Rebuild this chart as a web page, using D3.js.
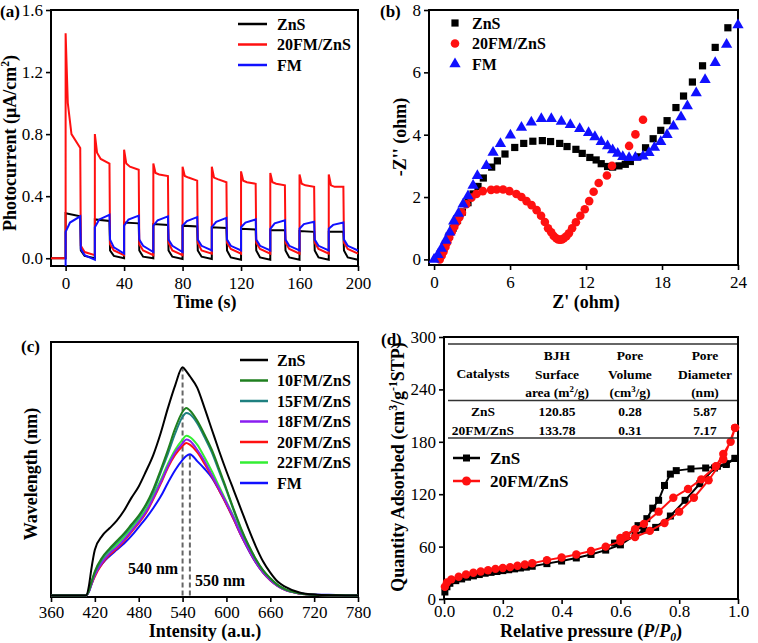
<!DOCTYPE html>
<html>
<head>
<meta charset="utf-8">
<script src="https://cdn.jsdelivr.net/npm/d3@7"></script>
<style>
body { margin: 0; background: #fff; }
svg text { font-family: "Liberation Serif", "Tinos", "Times New Roman", "DejaVu Serif", serif; }
</style>
</head>
<body>
<script>
var FONT = "'Liberation Serif', 'Tinos', 'Times New Roman', 'DejaVu Serif', serif";

// ---------- (a) photocurrent, one entry per light on/off cycle ----------
var cycleStart  = [0, 20, 40, 60, 80, 100, 120, 140, 160, 180];
var redPeak     = [1.45, 0.80, 0.70, 0.61, 0.59, 0.59, 0.56, 0.55, 0.54, 0.54];
var redOn       = [1.00, 0.68, 0.61, 0.55, 0.53, 0.52, 0.50, 0.49, 0.48, 0.47];
var redMid      = [0.80, 0.64, 0.59, 0.54, 0.52, 0.51, 0.49, 0.48, 0.47, 0.46];
var redOnEnd    = [0.71, 0.61, 0.57, 0.53, 0.50, 0.49, 0.48, 0.47, 0.46, 0.46];
var redOffStart = [0.08, 0.09, 0.09, 0.10, 0.10, 0.10, 0.10, 0.10, 0.10, 0.10];
var redOffMid   = [0.04, 0.05, 0.05, 0.05, 0.05, 0.06, 0.06, 0.06, 0.06, 0.06];
var redOffEnd   = [0.02, 0.02, 0.02, 0.02, 0.03, 0.03, 0.03, 0.03, 0.03, 0.03];

var blackOn       = [0.29, 0.25, 0.23, 0.22, 0.21, 0.20, 0.19, 0.18, 0.175, 0.17];
var blackOnEnd    = [0.27, 0.24, 0.225, 0.215, 0.205, 0.195, 0.185, 0.18, 0.17, 0.17];
var blackOffStart = [0.05, 0.05, 0.05, 0.05, 0.05, 0.05, 0.05, 0.05, 0.05, 0.05];
var blackOffMid   = [0.015, 0.015, 0.01, 0.01, 0.01, 0.005, 0.005, 0.005, 0.005, 0.005];
var blackOffEnd   = [0.0, 0.0, 0.0, -0.005, -0.005, -0.01, -0.01, -0.01, -0.01, -0.01];

var blueOn       = [0.17, 0.20, 0.21, 0.21, 0.21, 0.20, 0.20, 0.19, 0.19, 0.19];
var blueMid      = [0.23, 0.25, 0.25, 0.245, 0.24, 0.235, 0.23, 0.225, 0.22, 0.215];
var blueOnEnd    = [0.27, 0.28, 0.275, 0.27, 0.265, 0.26, 0.25, 0.245, 0.235, 0.23];
var blueOffStart = [0.06, 0.12, 0.12, 0.12, 0.12, 0.12, 0.12, 0.12, 0.12, 0.12];
var blueOffMid   = [0.02, 0.07, 0.08, 0.08, 0.08, 0.08, 0.08, 0.08, 0.08, 0.08];
var blueOffEnd   = [-0.01, 0.03, 0.04, 0.04, 0.05, 0.05, 0.05, 0.05, 0.05, 0.05];

// ---------- (b) Nyquist plot ----------
var znsRe = [0.3, 0.6, 0.9, 1.2, 1.5, 1.85, 2.24, 2.68, 3.08, 3.47, 3.89, 4.55, 5.0, 5.6, 6.37, 7.08, 7.8, 8.55, 9.2, 9.92, 10.5, 11.2, 11.7, 12.3, 12.8, 13.2, 13.7, 14.1, 14.6, 15.1, 15.5, 16.1, 16.7, 17.3, 17.9, 18.4, 19.1, 19.7, 20.4, 21.2, 22.2, 23.2];
var znsIm = [0.05, 0.25, 0.5, 0.75, 1.0, 1.25, 1.52, 1.82, 2.1, 2.34, 2.61, 2.96, 3.16, 3.38, 3.59, 3.72, 3.79, 3.81, 3.78, 3.72, 3.62, 3.53, 3.4, 3.27, 3.19, 3.07, 2.98, 2.96, 3.0, 3.05, 3.14, 3.29, 3.58, 3.87, 4.14, 4.45, 4.87, 5.24, 5.69, 6.21, 6.8, 7.43];
var compRe = [0.45, 0.6, 0.75, 0.9, 1.05, 1.2, 1.4, 1.6, 1.8, 2.0, 2.2, 2.55, 2.95, 3.35, 3.85, 4.5, 4.95, 5.45, 5.95, 6.5, 6.9, 7.3, 7.7, 8.1, 8.45, 8.75, 9.0, 9.25, 9.45, 9.65, 9.8, 9.95, 10.1, 10.25, 10.45, 10.65, 10.9, 11.2, 11.55, 11.9, 12.25, 12.6, 13.0, 13.65, 14.05, 15.4, 15.9, 16.5];
var compIm = [0.0, 0.12, 0.25, 0.4, 0.55, 0.7, 0.88, 1.05, 1.2, 1.35, 1.5, 1.77, 1.98, 2.1, 2.19, 2.23, 2.24, 2.24, 2.19, 2.1, 2.0, 1.87, 1.74, 1.58, 1.4, 1.2, 1.0, 0.87, 0.75, 0.68, 0.64, 0.63, 0.64, 0.68, 0.74, 0.84, 1.0, 1.19, 1.4, 1.61, 1.87, 2.17, 2.45, 2.69, 3.0, 3.64, 4.01, 4.48];
var fmRe = [0, 0.3, 0.58, 0.92, 1.24, 1.55, 1.92, 2.29, 2.68, 3.08, 3.42, 4.13, 4.66, 5.24, 6.03, 6.9, 7.68, 8.47, 9.26, 10.05, 10.76, 11.5, 12.2, 12.7, 13.2, 13.7, 14.1, 14.5, 14.9, 15.4, 15.9, 16.5, 16.97, 17.4, 17.9, 18.4, 18.9, 19.5, 20.0, 20.7, 21.4, 22.2, 23.1, 24];
var fmIm = [0, 0.15, 0.35, 0.61, 0.87, 1.22, 1.47, 1.77, 2.03, 2.37, 2.68, 3.0, 3.43, 3.71, 3.98, 4.23, 4.4, 4.51, 4.51, 4.42, 4.32, 4.19, 4.06, 3.93, 3.77, 3.64, 3.51, 3.4, 3.29, 3.26, 3.27, 3.31, 3.42, 3.59, 3.77, 4.0, 4.27, 4.57, 4.92, 5.34, 5.76, 6.31, 6.89, 7.52];

// ---------- (c) PL spectra ----------
var wl = [360, 400, 408, 412, 415, 420, 430, 440, 450, 460, 470, 480, 490, 500, 510, 520, 530, 540, 545, 550, 560, 570, 580, 590, 600, 610, 620, 630, 640, 650, 660, 670, 680, 700, 720, 750, 780];
var plNames = ["ZnS", "10FM/ZnS", "15FM/ZnS", "18FM/ZnS", "20FM/ZnS", "22FM/ZnS", "FM"];
var plColors = ["#000000", "#1f7f1f", "#1f8080", "#8a1ef0", "#ff1010", "#33ee33", "#1010ff"];
var plZnS  = [0, 0, 0, 4, 10, 18, 23.5, 26.5, 29.5, 33.5, 38.5, 43, 49, 55.5, 64, 74, 83, 90, 88.5, 86.5, 82, 74, 65.5, 57, 49, 41.5, 34, 26.5, 19.5, 13.5, 9, 5.5, 3.5, 1.2, 0.4, 0.1, 0];
var pl10FM = [0, 0, 0, 2, 5, 9.5, 15, 18.5, 21.5, 24.5, 28, 31.5, 36, 42, 49.5, 57.5, 66, 72.5, 74, 73, 69, 63.5, 57.5, 50, 42, 34, 26.5, 20, 14.5, 10, 6.8, 4.2, 2.5, 0.9, 0.3, 0.1, 0];
var pl15FM = [0, 0, 0, 2, 4.8, 9, 14.5, 18, 21, 24, 27.5, 31, 35.5, 41, 48.5, 56, 64, 70.5, 72, 71.5, 68, 62.5, 56.5, 49, 41.5, 33.5, 26, 19.8, 14.3, 9.9, 6.7, 4.1, 2.4, 0.9, 0.3, 0.1, 0];
var pl18FM = [0, 0, 0, 1.8, 4.3, 8, 13, 16.5, 19, 22, 25.5, 29, 33, 38.5, 44.5, 51, 56.5, 60, 61.5, 61, 57.5, 53, 47.5, 42, 36.5, 30.5, 24, 18.5, 13.3, 9.2, 6.1, 3.8, 2.2, 0.8, 0.3, 0.1, 0];
var pl20FM = [0, 0, 0, 1.8, 4.2, 7.5, 12.5, 16, 18.5, 21.5, 25, 28.5, 32.5, 38, 44, 50.5, 55.5, 59, 60.2, 59.5, 56.5, 52, 47, 41.5, 36, 30, 23.7, 18.3, 13.2, 9.1, 6, 3.8, 2.2, 0.8, 0.3, 0.1, 0];
var pl22FM = [0, 0, 0, 1.9, 4.6, 8.5, 13.5, 17, 20, 23, 26.5, 30, 34, 39.5, 45.5, 52, 57.5, 61.5, 63, 62.5, 59.5, 54.5, 49, 43, 37, 31, 24.5, 19, 13.8, 9.6, 6.4, 4, 2.3, 0.8, 0.3, 0.1, 0];
var plFM   = [0, 0, 0, 1.5, 4, 8, 12.5, 15.5, 18, 20.5, 23.5, 27, 30.5, 34.5, 39, 44.5, 49.5, 53.5, 55, 55.7, 53, 50, 46.5, 41.5, 36, 30, 23.7, 18, 13, 9, 6, 3.8, 2.3, 0.9, 0.4, 0.2, 0];

// ---------- (d) N2 isotherms ----------
var znsAdsP = [0.003, 0.01, 0.02, 0.04, 0.06, 0.08, 0.1, 0.12, 0.14, 0.16, 0.18, 0.2, 0.22, 0.24, 0.26, 0.28, 0.3, 0.35, 0.4, 0.45, 0.5, 0.55, 0.6, 0.65, 0.68, 0.72, 0.77, 0.82, 0.87, 0.92, 0.96, 0.99];
var znsAdsQ = [8, 14, 18, 21, 23, 25, 26.5, 28, 29.5, 30.5, 31.5, 32.5, 33.5, 34.5, 35.5, 36.5, 37.5, 40.5, 43.5, 47, 51, 56, 62, 73, 79, 82, 95, 113, 132, 150, 154, 161];
var znsDesP = [0.99, 0.96, 0.93, 0.89, 0.84, 0.79, 0.77, 0.75, 0.73, 0.71, 0.69, 0.66, 0.62, 0.58];
var znsDesQ = [161, 155, 152, 150, 149, 147, 143, 130, 113, 104, 92, 84, 72, 64];
var compAdsP = [0.003, 0.01, 0.025, 0.05, 0.075, 0.1, 0.125, 0.15, 0.175, 0.2, 0.225, 0.25, 0.275, 0.3, 0.35, 0.4, 0.45, 0.5, 0.55, 0.6, 0.65, 0.7, 0.75, 0.8, 0.85, 0.9, 0.95, 0.99];
var compAdsQ = [14, 19, 22.5, 25.5, 28, 30, 31.5, 33, 34.5, 35.5, 36.5, 38, 39.5, 41, 44.5, 47.5, 51, 55, 60, 66, 71, 78, 87, 100, 116, 136, 160, 196];
var compDesP = [0.99, 0.975, 0.95, 0.925, 0.875, 0.83, 0.78, 0.73, 0.68, 0.65, 0.62, 0.6];
var compDesQ = [196, 180, 166, 152, 137, 126, 116, 100, 86, 80, 73, 70];

var tableHead = [["", "BJH", "Pore", "Pore"], ["Catalysts", "Surface", "Volume", "Diameter"]];
var tableRows = [["ZnS", "120.85", "0.28", "5.87"], ["20FM/ZnS", "133.78", "0.31", "7.17"]];

var svg = d3.select("body").append("svg")
    .attr("width", 758)
    .attr("height", 643)
    .style("font-family", FONT);

var TICK = 17;

// frame + axes for one panel
function makePanel(box, xDom, yDom, xTicks, yTicks, xFmt, yFmt, xPad) {
    var g = svg.append("g");
    var x = d3.scaleLinear().domain(xDom).range([box.x0, box.x1]);
    var y = d3.scaleLinear().domain(yDom).range([box.y1, box.y0]);

    var xa = g.append("g")
        .attr("transform", "translate(0," + box.y1 + ")")
        .call(d3.axisBottom(x).tickValues(xTicks).tickFormat(xFmt).tickSize(5).tickPadding(xPad));
    styleAxis(xa);
    if (yTicks) {
        var ya = g.append("g")
            .attr("transform", "translate(" + box.x0 + ",0)")
            .call(d3.axisLeft(y).tickValues(yTicks).tickFormat(yFmt).tickSize(5).tickPadding(3));
        styleAxis(ya);
    }
    g.append("rect")
        .attr("x", box.x0).attr("y", box.y0)
        .attr("width", box.x1 - box.x0).attr("height", box.y1 - box.y0)
        .attr("fill", "none").attr("stroke", "#000").attr("stroke-width", 2);
    var data = g.append("g");
    return { g: g, data: data, x: x, y: y, box: box };
}

function styleAxis(a) {
    a.attr("font-family", null).attr("font-size", null);
    a.select(".domain").remove();
    a.selectAll(".tick line").attr("stroke", "#000").attr("stroke-width", 1.6);
    a.selectAll(".tick text").attr("fill", "#000")
        .style("font-size", TICK + "px")
        .style("font-family", FONT);
}

function boldText(x, y, str, size, anchor) {
    return svg.append("text")
        .attr("x", x).attr("y", y)
        .attr("text-anchor", anchor || "start")
        .style("font-family", FONT)
        .style("font-size", size + "px")
        .style("font-weight", "bold")
        .text(str);
}

// text with pieces: [string, "sup"|"sub"|"i"|"isub"|null]
function richText(parent, pieces, size) {
    var t = parent.append("text")
        .style("font-family", FONT)
        .style("font-size", size + "px")
        .style("font-weight", "bold");
    var shift = 0;
    pieces.forEach(function(p) {
        var s = t.append("tspan").text(p[0]);
        var want = 0;
        if (p[1] === "sup") { want = -0.38 * size; s.style("font-size", (size * 0.65) + "px"); }
        if (p[1] === "sub") { want = 0.22 * size; s.style("font-size", (size * 0.65) + "px"); }
        if (p[1] === "i" || p[1] === "isub") s.style("font-style", "italic");
        if (p[1] === "isub") { want = 0.22 * size; s.style("font-size", (size * 0.65) + "px"); }
        if (want !== shift) { s.attr("dy", want - shift); shift = want; }
    });
    return t;
}

// ================= (a) =================
var pa = makePanel({ x0: 51, x1: 358, y0: 10, y1: 266 }, [-10, 200], [-0.05, 1.6],
    [0, 40, 80, 120, 160, 200], [0.0, 0.4, 0.8, 1.2, 1.6], d3.format("d"), d3.format(".1f"), 6);

function redPoints() {
    var pts = [[-10, 0.0], [0, 0.0]];
    cycleStart.forEach(function(t0, i) {
        pts.push([t0, redPeak[i]], [t0 + 1.5, redOn[i]], [t0 + 4, redMid[i]], [t0 + 10, redOnEnd[i]],
                 [t0 + 10.4, redOffStart[i]], [t0 + 13, redOffMid[i]], [t0 + 20, redOffEnd[i]]);
    });
    return pts;
}
function blackPoints() {
    var pts = [[-10, 0.0], [0, 0.0]];
    cycleStart.forEach(function(t0, i) {
        pts.push([t0, blackOn[i]], [t0 + 10, blackOnEnd[i]],
                 [t0 + 10.4, blackOffStart[i]], [t0 + 13, blackOffMid[i]], [t0 + 20, blackOffEnd[i]]);
    });
    return pts;
}
function bluePoints() {
    var pts = [[0, -0.05]];
    cycleStart.forEach(function(t0, i) {
        pts.push([t0, blueOn[i]], [t0 + 3, blueMid[i]], [t0 + 10, blueOnEnd[i]],
                 [t0 + 10.4, blueOffStart[i]], [t0 + 13, blueOffMid[i]], [t0 + 20, blueOffEnd[i]]);
    });
    return pts;
}

var lineA = d3.line().x(function(d) { return pa.x(d[0]); }).y(function(d) { return pa.y(d[1]); });
[[blackPoints(), "#000"], [redPoints(), "#ff1010"], [bluePoints(), "#1010ff"]].forEach(function(s) {
    pa.data.append("path").datum(s[0])
        .attr("d", lineA)
        .attr("fill", "none")
        .attr("stroke", s[1])
        .attr("stroke-width", 2);
});

var legA = [["ZnS", "#000"], ["20FM/ZnS", "#ff1010"], ["FM", "#1010ff"]];
legA.forEach(function(d, i) {
    var cy = 24 + i * 20.5;
    svg.append("line").attr("x1", 238).attr("x2", 267).attr("y1", cy).attr("y2", cy)
        .attr("stroke", d[1]).attr("stroke-width", 2.5);
    boldText(277, cy + 5.5, d[0], 16);
});

boldText(0, 17, "(a)", 17);
boldText(205, 308, "Time (s)", 18, "middle");
richText(svg, [["Photocurrent (μA/cm", null], ["2", "sup"], [")", null]], 18)
    .attr("transform", "translate(16,143) rotate(-90)")
    .attr("text-anchor", "middle");

// ================= (b) =================
var pb = makePanel({ x0: 429, x1: 738, y0: 10, y1: 265 }, [-0.4, 24], [-0.18, 8],
    [0, 6, 12, 18, 24], [0, 2, 4, 6, 8], d3.format("d"), d3.format("d"), 6);

function drawScatter(p, xs, ys, sym, size, color) {
    p.data.append("g").selectAll("path")
        .data(xs.map(function(v, i) { return [v, ys[i]]; }))
        .join("path")
        .attr("transform", function(d) { return "translate(" + p.x(d[0]) + "," + p.y(d[1]) + ")"; })
        .attr("d", d3.symbol().type(sym).size(size))
        .attr("fill", color);
}
drawScatter(pb, znsRe, znsIm, d3.symbolSquare, 52, "#000");
drawScatter(pb, compRe, compIm, d3.symbolCircle, 58, "#ff1010");
drawScatter(pb, fmRe, fmIm, d3.symbolTriangle, 55, "#1010ff");

var legB = [["ZnS", d3.symbolSquare, 52, "#000"], ["20FM/ZnS", d3.symbolCircle, 58, "#ff1010"], ["FM", d3.symbolTriangle, 55, "#1010ff"]];
legB.forEach(function(d, i) {
    var cy = 23 + i * 20.5;
    svg.append("path").attr("transform", "translate(455," + cy + ")")
        .attr("d", d3.symbol().type(d[1]).size(d[2])).attr("fill", d[3]);
    boldText(472, cy + 5.5, d[0], 16);
});
boldText(380, 17, "(b)", 17);
boldText(586, 308, "Z' (ohm)", 18, "middle");
boldText(0, 0, "-Z'' (ohm)", 18, "middle")
    .attr("x", null).attr("y", null)
    .attr("transform", "translate(406,137) rotate(-90)");

// ================= (c) =================
var pc = makePanel({ x0: 51, x1: 358, y0: 342, y1: 597 }, [360, 780], [-0.6, 100],
    [360, 420, 480, 540, 600, 660, 720, 780], null, d3.format("d"), null, 4);

var plSeries = [plZnS, pl10FM, pl15FM, pl18FM, pl20FM, pl22FM, plFM];
var lineC = d3.line().curve(d3.curveMonotoneX)
    .x(function(d) { return pc.x(d[0]); }).y(function(d) { return pc.y(d[1]); });

// dashed guides at 540 and 550 nm
pc.data.append("line")
    .attr("x1", pc.x(540)).attr("x2", pc.x(540)).attr("y1", pc.y(0)).attr("y2", pc.y(90))
    .attr("stroke", "#666").attr("stroke-width", 2).attr("stroke-dasharray", "5,3");
pc.data.append("line")
    .attr("x1", pc.x(550)).attr("x2", pc.x(550)).attr("y1", pc.y(0)).attr("y2", pc.y(55.7))
    .attr("stroke", "#666").attr("stroke-width", 2).attr("stroke-dasharray", "5,3");

[6, 5, 4, 3, 2, 1, 0].forEach(function(k) {
    pc.data.append("path")
        .datum(wl.map(function(w, i) { return [w, plSeries[k][i]]; }))
        .attr("d", lineC)
        .attr("fill", "none")
        .attr("stroke", plColors[k])
        .attr("stroke-width", 2);
});

plNames.forEach(function(n, i) {
    var cy = 360 + i * 20.5;
    svg.append("line").attr("x1", 240).attr("x2", 268).attr("y1", cy).attr("y2", cy)
        .attr("stroke", plColors[i]).attr("stroke-width", 2.5);
    boldText(277, cy + 5.5, n, 16);
});
boldText(153, 574, "540 nm", 16, "middle");
boldText(220, 586, "550 nm", 16, "middle");
boldText(21, 352, "(c)", 17);
boldText(205, 637, "Intensity (a.u.)", 18, "middle");
boldText(0, 0, "Wavelength (nm)", 18, "middle")
    .attr("x", null).attr("y", null)
    .attr("transform", "translate(37,474) rotate(-90)");

// ================= (d) =================
var pd = makePanel({ x0: 444, x1: 738, y0: 337, y1: 599 }, [0, 1], [0, 300],
    [0, 0.2, 0.4, 0.6, 0.8, 1.0], [0, 60, 120, 180, 240, 300], d3.format(".1f"), d3.format("d"), 1);

var lineD = d3.line().x(function(d) { return pd.x(d[0]); }).y(function(d) { return pd.y(d[1]); });
function iso(ap, aq, dp, dq) {
    var a = ap.map(function(v, i) { return [v, aq[i]]; });
    var b = dp.map(function(v, i) { return [v, dq[i]]; });
    return a.concat(b);
}
var isoZnS = iso(znsAdsP, znsAdsQ, znsDesP, znsDesQ);
var isoComp = iso(compAdsP, compAdsQ, compDesP, compDesQ);
pd.data.append("path").datum(isoZnS).attr("d", lineD)
    .attr("fill", "none").attr("stroke", "#000").attr("stroke-width", 2);
pd.data.append("g").selectAll("rect").data(isoZnS).join("rect")
    .attr("x", function(d) { return pd.x(d[0]) - 3.5; })
    .attr("y", function(d) { return pd.y(d[1]) - 3.5; })
    .attr("width", 7).attr("height", 7).attr("fill", "#000");
pd.data.append("path").datum(isoComp).attr("d", lineD)
    .attr("fill", "none").attr("stroke", "#ff1010").attr("stroke-width", 2);
pd.data.append("g").selectAll("circle").data(isoComp).join("circle")
    .attr("cx", function(d) { return pd.x(d[0]); })
    .attr("cy", function(d) { return pd.y(d[1]); })
    .attr("r", 4.2).attr("fill", "#ff1010");

// legend (d)
[["ZnS", "#000", "sq"], ["20FM/ZnS", "#ff1010", "ci"]].forEach(function(d, i) {
    var cy = 458 + i * 23;
    svg.append("line").attr("x1", 453).attr("x2", 480).attr("y1", cy).attr("y2", cy)
        .attr("stroke", d[1]).attr("stroke-width", 2.5);
    if (d[2] === "sq") svg.append("rect").attr("x", 463).attr("y", cy - 3.5).attr("width", 7).attr("height", 7).attr("fill", d[1]);
    else svg.append("circle").attr("cx", 466.5).attr("cy", cy).attr("r", 4.5).attr("fill", d[1]);
    boldText(490, cy + 6, d[0], 17);
});

// table in (d)
var colX = [483, 557, 630, 705];
[344, 400.5, 438].forEach(function(yy) {
    svg.append("line").attr("x1", 448).attr("x2", 737).attr("y1", yy).attr("y2", yy)
        .attr("stroke", "#333").attr("stroke-width", 1.3);
});
tableHead.forEach(function(row, r) {
    row.forEach(function(c, j) {
        if (!c) return;
        var yy = (j === 0) ? 378 : 360 + r * 18.5;
        boldText(colX[j], yy, c, 13.5, "middle");
    });
});
richText(svg, [["area (m", null], ["2", "sup"], ["/g)", null]], 13.5)
    .attr("x", colX[1]).attr("y", 397).attr("text-anchor", "middle");
richText(svg, [["(cm", null], ["3", "sup"], ["/g)", null]], 13.5)
    .attr("x", colX[2]).attr("y", 397).attr("text-anchor", "middle");
boldText(colX[3], 397, "(nm)", 13.5, "middle");
tableRows.forEach(function(row, r) {
    row.forEach(function(c, j) {
        boldText(colX[j], 415.5 + r * 19.5, c, 13.5, "middle");
    });
});

boldText(381, 345, "(d)", 17);
richText(svg, [["Relative pressure (", null], ["P", "i"], ["/", null], ["P", "i"], ["0", "isub"], [")", null]], 18)
    .attr("x", 591).attr("y", 637).attr("text-anchor", "middle");
richText(svg, [["Quantity Adsorbed (cm", null], ["3", "sup"], ["/g", null], ["-1", "sup"], ["STP)", null]], 18)
    .attr("transform", "translate(404,467) rotate(-90)")
    .attr("text-anchor", "middle");
</script>
</body>
</html>
